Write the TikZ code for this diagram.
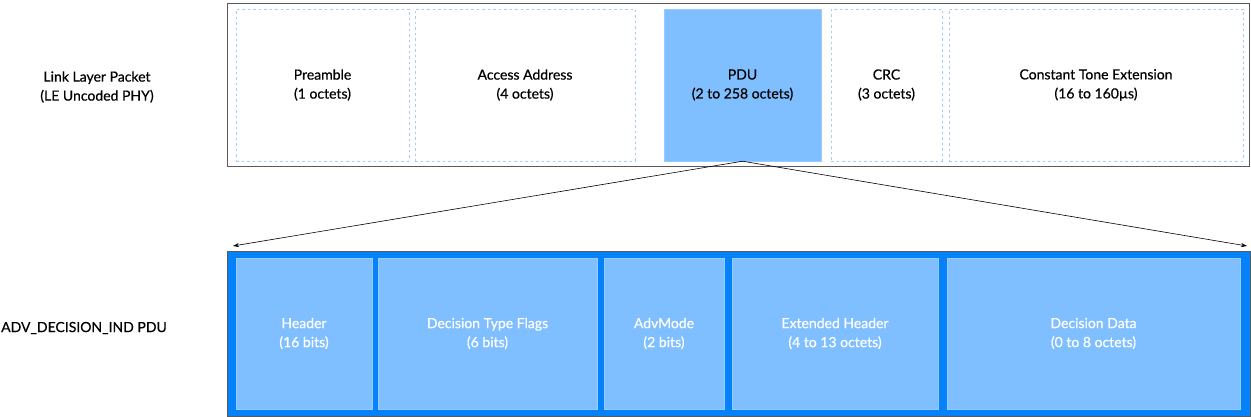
\documentclass[tikz,border=0pt]{standalone}
\usepackage{fontspec}
\setmainfont{Lato}[FakeBold=0.5]
\usetikzlibrary{positioning,arrows.meta}
\definecolor{fieldblue}{RGB}{128,191,255}
\definecolor{fieldline}{RGB}{150,204,255}
\definecolor{pdublue}{RGB}{5,130,250}
\definecolor{dashblue}{RGB}{160,204,245}
\definecolor{frame}{RGB}{90,90,90}

\begin{document}
\begin{tikzpicture}[x=1pt,y=-1pt,>={Stealth[length=6pt,width=4pt]},
  field/.style={draw=dashblue,dash pattern=on 2.5pt off 3pt,minimum height=152pt,inner sep=0pt,
    align=center,font=\fontsize{14}{19}\selectfont,execute at begin node=\rule{0pt}{21pt}},
  pdufield/.style={field,solid,draw=fieldline,fill=fieldblue},
  subfield/.style={draw=fieldline,fill=fieldblue,minimum height=151pt,inner sep=0pt,
    align=center,text=white,font=\fontsize{14}{19}\selectfont,execute at begin node=\rule{0pt}{20pt}},
  rowlabel/.style={align=center,font=\fontsize{14}{19}\selectfont}]
  \useasboundingbox (0,0) rectangle (1251,417);
  % link layer packet
  \draw[frame,line width=0.6pt] (227,3) rectangle (1249,166);
  \node[field,minimum width=173pt] (pre) at (322.5,85) {Preamble\\(1 octets)};
  \node[field,minimum width=220pt] (aa) at (525,85) {Access Address\\(4 octets)};
  \node[pdufield,minimum width=157pt] (pdu) at (742.5,85) {PDU\\(2 to 258 octets)};
  \node[field,minimum width=111pt] (crc) at (886.5,85) {CRC\\(3 octets)};
  \node[field,minimum width=294pt] (cte) at (1096,85) {Constant Tone Extension\\(16 to 160µs)};
  \node[rowlabel] (lbltop) at (97,87) {Link Layer Packet\\(LE Uncoded PHY)};
  % ADV_DECISION_IND PDU
  \fill[pdublue] (227,251) rectangle (1250,416);
  \draw[frame,line width=0.6pt] (227,251) rectangle (1250,416);
  \node[subfield,minimum width=136pt] (hdr) at (304,333.5) {Header\\(16 bits)};
  \node[subfield,minimum width=219pt] (flags) at (487.5,333.5) {Decision Type Flags\\(6 bits)};
  \node[subfield,minimum width=120pt] (mode) at (664,333.5) {AdvMode\\(2 bits)};
  \node[subfield,minimum width=206pt] (ext) at (835,333.5) {Extended Header\\(4 to 13 octets)};
  \node[subfield,minimum width=293pt] (data) at (1093.5,333.5) {Decision Data\\(0 to 8 octets)};
  \node[rowlabel,anchor=west,inner sep=0pt] (lblbot) at (1,328) {ADV\_DECISION\_IND PDU};
  % expansion
  \coordinate (ltip) at (233,246);
  \coordinate (rtip) at (1247,246);
  \draw[->,line width=0.6pt] (pdu.south) -- (ltip);
  \draw[->,line width=0.6pt] (pdu.south) -- (rtip);
\end{tikzpicture}
\end{document}
